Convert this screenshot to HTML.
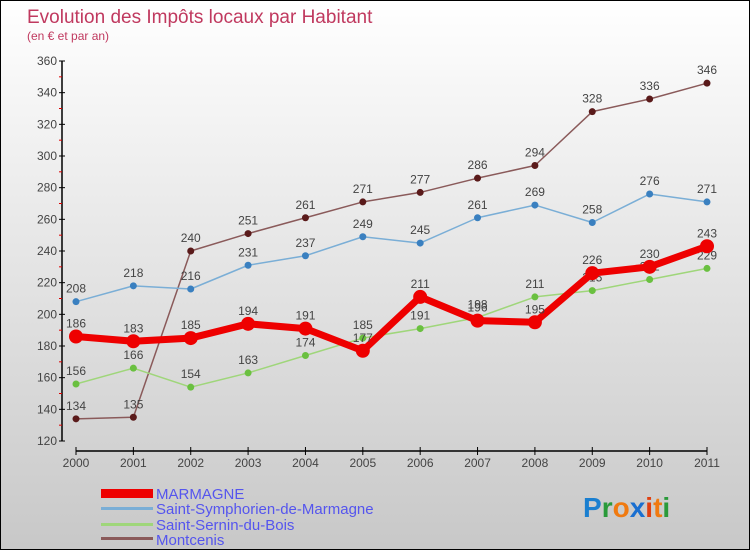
<!DOCTYPE html>
<html><head><meta charset="utf-8"><style>
body{margin:0;width:750px;height:550px;overflow:hidden;font-family:"Liberation Sans",sans-serif}
#wrap{position:relative;width:748px;height:548px;border:1px solid #000;background:linear-gradient(#fff,#c8c8c8)}
</style></head><body>
<div id="wrap">
<svg id="chart" width="748" height="548">
<text x="26" y="22" font-size="19" fill="#c0395f">Evolution des Impôts locaux par Habitant</text>
<text x="26" y="39" font-size="12" fill="#c0395f">(en € et par an)</text>
<g id="axes"></g><g id="series"></g>
<g>
<rect x="100" y="488" width="52" height="9" fill="#e00"/>
<text x="155" y="498" font-size="15" fill="#5555ee">MARMAGNE</text>
<rect x="100" y="506" width="52" height="3" fill="#7aaed6"/>
<text x="155" y="513" font-size="15" fill="#5555ee">Saint-Symphorien-de-Marmagne</text>
<rect x="100" y="522" width="52" height="3" fill="#9fd67a"/>
<text x="155" y="529" font-size="15" fill="#5555ee">Saint-Sernin-du-Bois</text>
<rect x="100" y="536" width="52" height="3" fill="#8a5a5a"/>
<text x="155" y="544" font-size="15" fill="#5555ee">Montcenis</text>
</g>
<g font-size="28" font-weight="bold">
<text x="582" y="516"><tspan fill="#1a7fd0">P</tspan><tspan fill="#2a9a3a">r</tspan><tspan fill="#f07a10">o</tspan><tspan fill="#1a6fd0">x</tspan><tspan fill="#e04010">i</tspan><tspan fill="#f07a10">t</tspan><tspan fill="#2a9a3a">i</tspan></text>
</g>
</svg></div>
<script>
const years=[2000,2001,2002,2003,2004,2005,2006,2007,2008,2009,2010,2011];
const yTicks=[120,140,160,180,200,220,240,260,280,300,320,340,360];
const marmagne=[186,183,185,194,191,177,211,196,195,226,230,243];
const symphorien=[208,218,216,231,237,249,245,261,269,258,276,271];
const sernin=[156,166,154,163,174,185,191,198,211,215,222,229];
const montcenis=[134,135,240,251,261,271,277,286,294,328,336,346];
const NS="http://www.w3.org/2000/svg";
const X=i=>75+i*(706-75)/11;
const Y=v=>440-(v-120)*380/240;
function mk(t,a,p){const e=document.createElementNS(NS,t);for(const k in a)e.setAttribute(k,a[k]);p.appendChild(e);return e;}
const ax=document.getElementById('axes');
let l=mk('line',{x1:61,y1:60,x2:61,y2:440,stroke:'#000','stroke-width':1.5},ax);


l=mk('line',{x1:75,y1:450,x2:706,y2:450,stroke:'#000','stroke-width':1.5},ax);


yTicks.forEach((v,i)=>{
 mk('line',{x1:58,y1:Y(v),x2:64,y2:Y(v),stroke:'#000'},ax);
 if(i<yTicks.length-1)mk('line',{x1:58,y1:Y(v+10),x2:61,y2:Y(v+10),stroke:'#d00'},ax);
 const t=mk('text',{x:56,y:Y(v)+4,'font-size':12,fill:'#444','text-anchor':'end'},ax);t.textContent=v;
 
 
});
years.forEach((y,i)=>{
 mk('line',{x1:X(i),y1:446,x2:X(i),y2:454,stroke:'#000'},ax);
 const t=mk('text',{x:X(i),y:466,'font-size':12,fill:'#444','text-anchor':'middle'},ax);t.textContent=y;
 
 
});
const sg=document.getElementById('series');
function draw(data,color,dot,w,r,name){
 const g=mk('g',{},sg);
 
 
 mk('polyline',{points:data.map((v,i)=>X(i)+','+Y(v)).join(' '),fill:'none',stroke:color,'stroke-width':w,'stroke-linejoin':'round'},g);
 data.forEach((v,i)=>{
  const c=mk('circle',{cx:X(i),cy:Y(v),r:r,fill:dot},g);
  
  
  const t=mk('text',{x:X(i),y:Y(v)-9,'font-size':12,fill:'#444','text-anchor':'middle'},g);t.textContent=v;
 });
}
draw(montcenis,'#8a5a5a','#5a1a1a',1.5,3.5,'series-montcenis');
draw(symphorien,'#7aaed6','#3a80c0',1.5,3.5,'series-symphorien');
draw(sernin,'#9fd67a','#6ac040',1.5,3.5,'series-sernin');
draw(marmagne,'#e00','#e00',7,7,'series-marmagne');
</script>
</body></html>
